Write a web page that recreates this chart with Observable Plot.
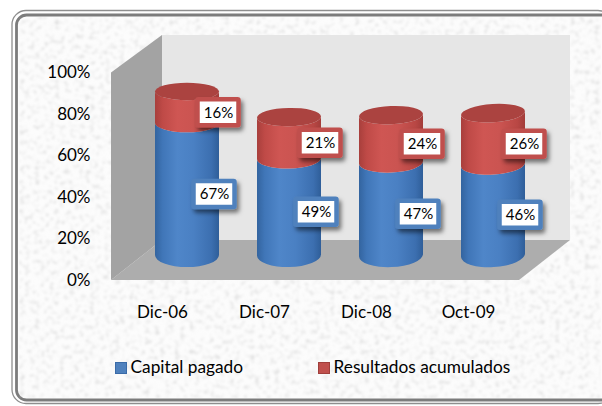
<!DOCTYPE html>
<html><head><meta charset="utf-8">
<script src="https://cdn.jsdelivr.net/npm/d3@7"></script>
<script src="https://cdn.jsdelivr.net/npm/@observablehq/plot@0.6"></script>
<style>html,body{margin:0;padding:0;background:#fff}svg{display:block}</style>
</head><body><div id="c"></div>
<script>
const categories = ["Dic-06","Dic-07","Dic-08","Oct-09"];
const capitalPagado = [67,49,47,46];
const resultadosAcumulados = [16,21,24,26];
const seriesNames = ["Capital pagado","Resultados acumulados"];
const yTicks = [0,20,40,60,80,100];
const blue = "#4f81bd", red = "#c0504d";
const W = 602, H = 406, FONT = "Lato, 'Open Sans', sans-serif";

// cylinders stand mid-depth in the 3D box: project their values on the front plane
const proj = v => 12 + 0.95 * v;
const barShift = 25, rx = 32;
const table = categories.flatMap((c,i)=>[
  {c,i,s:0,v:capitalPagado[i],lo:0,hi:capitalPagado[i]},
  {c,i,s:1,v:resultadosAcumulados[i],lo:capitalPagado[i],hi:capitalPagado[i]+resultadosAcumulados[i]}
]);
const labelDx = d => d.s ? 56 : 52;
const labelDy = 5;

function background(){
  const g = d3.create("svg:g");
  const defs = g.append("defs");
  const f = defs.append("filter").attr("id","marble").attr("x",0).attr("y",0).attr("width","100%").attr("height","100%");
  f.append("feTurbulence").attr("type","fractalNoise").attr("baseFrequency",0.2).attr("numOctaves",4).attr("seed",11).attr("result","n");
  f.append("feColorMatrix").attr("in","n").attr("type","matrix")
    .attr("values","0 0 0 0 0.72  0 0 0 0 0.72  0 0 0 0 0.72  2.4 0 0 0 -1.2").attr("result","m");
  f.append("feGaussianBlur").attr("in","m").attr("stdDeviation",1);
  const soft = defs.append("filter").attr("id","soft").attr("x","-2%").attr("y","-2%").attr("width","104%").attr("height","104%");
  soft.append("feGaussianBlur").attr("stdDeviation",0.7);
  const shadow = defs.append("filter").attr("id","sh").attr("x","-20%").attr("y","-20%").attr("width","150%").attr("height","160%");
  shadow.append("feDropShadow").attr("dx",2.5).attr("dy",3.5).attr("stdDeviation",2).attr("flood-color","#000").attr("flood-opacity",0.5);
  const grad = (id,stops)=>{
    const lg = defs.append("linearGradient").attr("id",id);
    stops.forEach(([o,col])=>lg.append("stop").attr("offset",o).attr("stop-color",col));
  };
  grad("gb",[[0,"#33649f"],[0.12,"#4076b8"],[0.35,"#4f86c9"],[0.6,"#4a80c3"],[0.88,"#3c6fb0"],[1,"#2f5e99"]]);
  grad("gr",[[0,"#a83f3c"],[0.12,"#bf4a47"],[0.35,"#cf5653"],[0.6,"#cb5451"],[0.88,"#b94744"],[1,"#a33d3a"]]);

  g.append("rect").attr("x",12).attr("y",10.5).attr("width",600).attr("height",393).attr("rx",14).attr("fill","#fff").attr("stroke","#8e8e8e").attr("stroke-width",1.3).attr("filter","url(#soft)");
  g.append("rect").attr("x",16.5).attr("y",15).attr("width",600).attr("height",385).attr("rx",10).attr("fill","#fcfcfc").attr("stroke","#7c7c7c").attr("stroke-width",2.8).attr("filter","url(#soft)");
  g.append("rect").attr("x",19).attr("y",17).attr("width",582).attr("height",381).attr("rx",8).attr("filter","url(#marble)").attr("fill","#fff");
  return g.node();
}

function box3d(_, {x,y}){
  const g = d3.create("svg:g");
  const left = x(categories[0]) - 51, right = x(categories[3]) + 51, depth = 51;
  const back = v => 240 - (y(0) - y(v)) * 0.988;
  const poly = (pts,fill)=>g.append("polygon").attr("points",pts.map(p=>p.join(",")).join(" ")).attr("fill",fill);
  poly([[left+depth,back(100)],[right+depth,back(100)],[right+depth,back(0)],[left+depth,back(0)]],"#e6e6e6");
  poly([[left,y(0)],[left+depth,back(0)],[right+depth,back(0)],[right,y(0)]],"#adadad");
  poly([[left,y(100)],[left+depth,back(100)],[left+depth,back(0)],[left,y(0)]],"#a3a3a3");
  return g.node();
}

function cylinders(_, {x,y}){
  const g = d3.create("svg:g");
  const ryAt = v => 12 - 0.04 * v;
  for (const d of table){
    const cx = x(d.c) + barShift;
    const tilt = -1.2 * d.i;
    const rise = rx * Math.tan(tilt*Math.PI/180);
    const yL = v => y(proj(v)) - rise, yR = v => y(proj(v)) + rise;
    const seg = `M${cx-rx},${yL(d.hi)} A${rx},${ryAt(d.hi)} ${tilt} 0 0 ${cx+rx},${yR(d.hi)}`
      + ` L${cx+rx},${yR(d.lo)} A${rx},${ryAt(d.lo)} ${tilt} 0 1 ${cx-rx},${yL(d.lo)} Z`;
    g.append("path").attr("d",seg).attr("fill",d.s?"url(#gr)":"url(#gb)");
    if (d.s){
      g.append("ellipse").attr("cx",cx).attr("cy",y(proj(d.hi))).attr("rx",rx).attr("ry",ryAt(d.hi))
        .attr("transform",`rotate(${tilt} ${cx} ${y(proj(d.hi))})`).attr("fill","#ab4340");
    }
  }
  return g.node();
}

function labelBoxes(_, {x,y}){
  const g = d3.create("svg:g");
  for (const d of table){
    const cx = x(d.c) + labelDx(d), cy = y(proj((d.lo+d.hi)/2)) + labelDy;
    g.append("rect").attr("x",cx-20.5).attr("y",cy-13).attr("width",41).attr("height",26).attr("rx",1)
      .attr("fill","#fff").attr("stroke",d.s?red:blue).attr("stroke-width",4.5).attr("filter","url(#sh)");
  }
  return g.node();
}

function legendSwatches(){
  const g = d3.create("svg:g");
  [[115,blue,"#3a6ba8"],[318,red,"#a03f3c"]].forEach(([px,fill,st])=>{
    g.append("rect").attr("x",px+.5).attr("y",362.5).attr("width",11).attr("height",11).attr("fill",fill).attr("stroke",st);
  });
  return g.node();
}

const chart = Plot.plot({
  width:W, height:H, marginTop:72.5, marginBottom:126, marginLeft:90, marginRight:0,
  style:{background:"transparent",fontFamily:FONT,overflow:"hidden"},
  x:{type:"point",domain:categories,range:[160.5,468.5],padding:0,axis:null},
  y:{domain:[0,100],range:[280,72.5],axis:null},
  marks:[
    background, box3d, cylinders, labelBoxes, legendSwatches,
    Plot.axisY({ticks:yTicks,tickSize:0,tickPadding:0,tickFormat:d=>d+"%",fontSize:17,label:null,anchor:"left",fill:"#000"}),
    Plot.text(categories,{x:d=>d,frameAnchor:"bottom",lineAnchor:"middle",dy:32,text:d=>d,fontSize:17,fill:"#000"}),
    Plot.text(table,{filter:d=>d.s===0,x:"c",y:d=>proj((d.lo+d.hi)/2),text:d=>d.v+"%",fontSize:15,fill:"#000",dy:labelDy,dx:52}),
    Plot.text(table,{filter:d=>d.s===1,x:"c",y:d=>proj((d.lo+d.hi)/2),text:d=>d.v+"%",fontSize:15,fill:"#000",dy:labelDy,dx:56}),
    Plot.text([seriesNames[0]],{frameAnchor:"top-left",dx:130-90,dy:367-72.5,text:d=>d,lineAnchor:"middle",fontSize:17.3,fill:"#000"}),
    Plot.text([seriesNames[1]],{frameAnchor:"top-left",dx:333-90,dy:367-72.5,text:d=>d,lineAnchor:"middle",fontSize:17.3,fill:"#000"})
  ]
});
document.getElementById("c").append(chart);
</script></body></html>
